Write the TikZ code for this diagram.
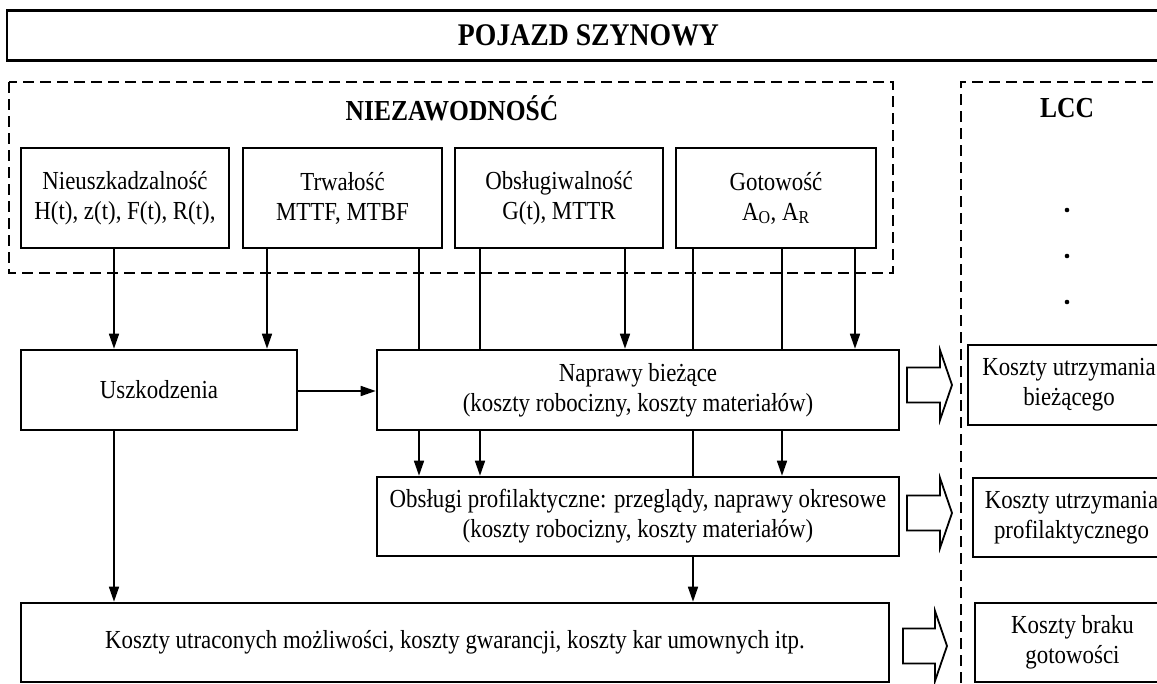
\documentclass[tikz,border=0pt]{standalone}
\usepackage{fontspec}
\setmainfont[FakeStretch=0.88]{Liberation Serif}
\usetikzlibrary{arrows.meta,calc}
\newcommand\hollowarr[4]{% x-left, x-headbase, x-tip, y-centre
  \draw[hol] (#1,#4-17.5) -- (#2,#4-17.5) -- (#2,#4-35) -- (#3,#4) -- (#2,#4+35) -- (#2,#4+17.5) -- (#1,#4+17.5) -- cycle;}
\begin{document}
\begin{tikzpicture}[x=1pt,y=-1pt,
  box/.style={draw,line width=2.6pt,rectangle,inner sep=0pt,align=center,
    font=\fontsize{26}{30}\selectfont},
  con/.style={line width=1.6pt},
  arr/.style={con,-{Triangle[length=15pt,width=10pt]}},
  dbox/.style={line width=2.6pt,dash pattern=on 11pt off 6pt},
  hol/.style={line width=1.8pt,line join=miter},
  head/.style={font=\bfseries\fontsize{29}{34}\selectfont}]
\useasboundingbox (0,0) rectangle (1157,683);
\clip (0,0) rectangle (1157,683);
\fill[white] (0,0) rectangle (1157,683);

% outer title box
\node[box,minimum width=1163pt,minimum height=50pt,font=\bfseries\fontsize{31.5}{36}\selectfont]
  (pojazd) at (588.5,35.5) {POJAZD SZYNOWY};

% dashed groups
\draw[dbox] (9,82) rectangle (893,273);
\draw[dbox] (961,700) -- (961,82) -- (1180,82);
\node[head] (niez) at (452,108) {NIEZAWODNOŚĆ};
\node[head] (lcc) at (1067,108) {LCC};
\fill (1067,210) circle (2.3pt);
\fill (1067,256) circle (2.3pt);
\fill (1067,302) circle (2.3pt);

% top boxes
\node[box,minimum width=208pt,minimum height=100pt] (b1) at (125,198)
  {Nieuszkadzalność\\H(t), z(t), F(t), R(t),};
\node[box,minimum width=199pt,minimum height=100pt] (b2) at (342.5,198)
  {Trwałość\\MTTF, MTBF};
\node[box,minimum width=208pt,minimum height=100pt] (b3) at (559,198)
  {Obsługiwalność\\G(t), MTTR};
\node[box,minimum width=200pt,minimum height=100pt] (b4) at (776,198)
  {Gotowość\\A\textsubscript{O}, A\textsubscript{R}};

% middle boxes
\node[box,minimum width=276pt,minimum height=80pt] (u) at (159,390) {Uszkodzenia};
\node[box,minimum width=522pt,minimum height=80pt] (n) at (638,390)
  {Naprawy bieżące\\(koszty robocizny, koszty materiałów)};
\node[box,minimum width=522pt,minimum height=79pt] (o) at (638,516.5)
  {Obsługi profilaktyczne: przeglądy, naprawy okresowe\\(koszty robocizny, koszty materiałów)};
\node[box,minimum width=868pt,minimum height=79pt] (k) at (455,642.5)
  {Koszty utraconych możliwości, koszty gwarancji, koszty kar umownych itp.};

% right boxes
\node[box,minimum width=202pt,minimum height=80pt] (r1) at (1069,385)
  {Koszty utrzymania\\bieżącego};
\node[box,minimum width=197pt,minimum height=79pt] (r2) at (1071.5,517.5)
  {Koszty utrzymania\\profilaktycznego};
\node[box,minimum width=195pt,minimum height=79pt] (r3) at (1072.5,642.5)
  {Koszty braku\\gotowości};

% connector columns
\coordinate (c1) at (114,0);
\coordinate (c2) at (267,0);
\coordinate (c3) at (419,0);
\coordinate (c4) at (480,0);
\coordinate (c5) at (625,0);
\coordinate (c6) at (693,0);
\coordinate (c7) at (782,0);
\coordinate (c8) at (855,0);
\coordinate (cy) at (0,391);

\draw[arr] (b1.south -| c1) -- (u.north -| c1);
\draw[arr] (b2.south -| c2) -- (u.north -| c2);
\draw[con] (b2.south -| c3) -- (n.north -| c3);
\draw[con] (b3.south -| c4) -- (n.north -| c4);
\draw[arr] (b3.south -| c5) -- (n.north -| c5);
\draw[con] (b4.south -| c6) -- (n.north -| c6);
\draw[con] (b4.south -| c7) -- (n.north -| c7);
\draw[arr] (b4.south -| c8) -- (n.north -| c8);
\draw[arr] (u.east |- cy) -- (n.west |- cy);
\draw[arr] (n.south -| c3) -- (o.north -| c3);
\draw[arr] (n.south -| c4) -- (o.north -| c4);
\draw[con] (n.south -| c6) -- (o.north -| c6);
\draw[arr] (n.south -| c7) -- (o.north -| c7);
\draw[arr] (o.south -| c6) -- (k.north -| c6);
\draw[arr] (u.south -| c1) -- (k.north -| c1);

% hollow arrows
\hollowarr{907}{940}{952}{385}
\hollowarr{907}{940}{952}{513}
\hollowarr{903}{935}{947}{646}
\end{tikzpicture}
\end{document}
